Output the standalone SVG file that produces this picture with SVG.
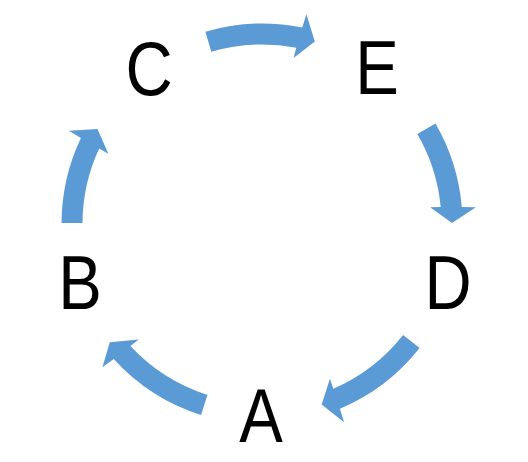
<svg xmlns="http://www.w3.org/2000/svg" width="528" height="462" viewBox="0 0 528 462">
  <defs>
    <style>
      .lbl { font-family: "Liberation Sans", Arial, sans-serif; font-size: 76px; fill: #000; text-anchor: middle; }
      .arr { fill: #5B9BD5; stroke: none; }
    </style>
  </defs>
  <rect width="528" height="462" fill="#fff"/>
  <g id="connectors">
    <path id="C-E" class="arr" d="M205.39,31.66 A200.5,200.5 0 0 1 302.24,27.58 L306.41,14.15 L314.85,41.50 L293.52,57.97 L296.34,47.82 A179.5,179.5 0 0 0 211.32,51.80 Z"/>
    <path id="E-D" class="arr" d="M435.50,123.51 A200.5,200.5 0 0 1 461.78,206.98 L475.84,207.17 L452.00,223.01 L430.16,207.21 L440.70,207.04 A179.5,179.5 0 0 0 417.33,134.03 Z"/>
    <path id="D-A" class="arr" d="M419.60,347.95 A200.5,200.5 0 0 1 339.93,408.73 L344.09,422.17 L321.66,404.39 L329.93,378.75 L333.35,388.71 A179.5,179.5 0 0 0 403.09,334.96 Z"/>
    <path id="A-B" class="arr" d="M201.04,415.01 A200.5,200.5 0 0 1 113.70,358.94 L102.43,367.34 L109.74,342.28 L138.70,339.58 L130.44,346.12 A179.5,179.5 0 0 0 207.43,395.00 Z"/>
    <path id="B-C" class="arr" d="M61.50,222.95 A200.5,200.5 0 0 1 80.92,137.91 L68.88,130.64 L97.45,129.00 L108.33,153.65 L99.15,148.48 A179.5,179.5 0 0 0 82.50,223.06 Z"/>
  </g>
  <g id="node-C" transform="translate(149 95) scale(0.86 1)"><text class="lbl" x="0" y="0">C</text></g>
  <g id="node-E" transform="translate(377 94) scale(0.86 1)"><text class="lbl" x="0" y="0">E</text></g>
  <g id="node-D" transform="translate(448 309) scale(0.86 1)"><text class="lbl" x="0" y="0">D</text></g>
  <g id="node-A" transform="translate(261 442) scale(0.86 1)"><text class="lbl" x="0" y="0">A</text></g>
  <g id="node-B" transform="translate(80 309) scale(0.86 1)"><text class="lbl" x="0" y="0">B</text></g>
</svg>
